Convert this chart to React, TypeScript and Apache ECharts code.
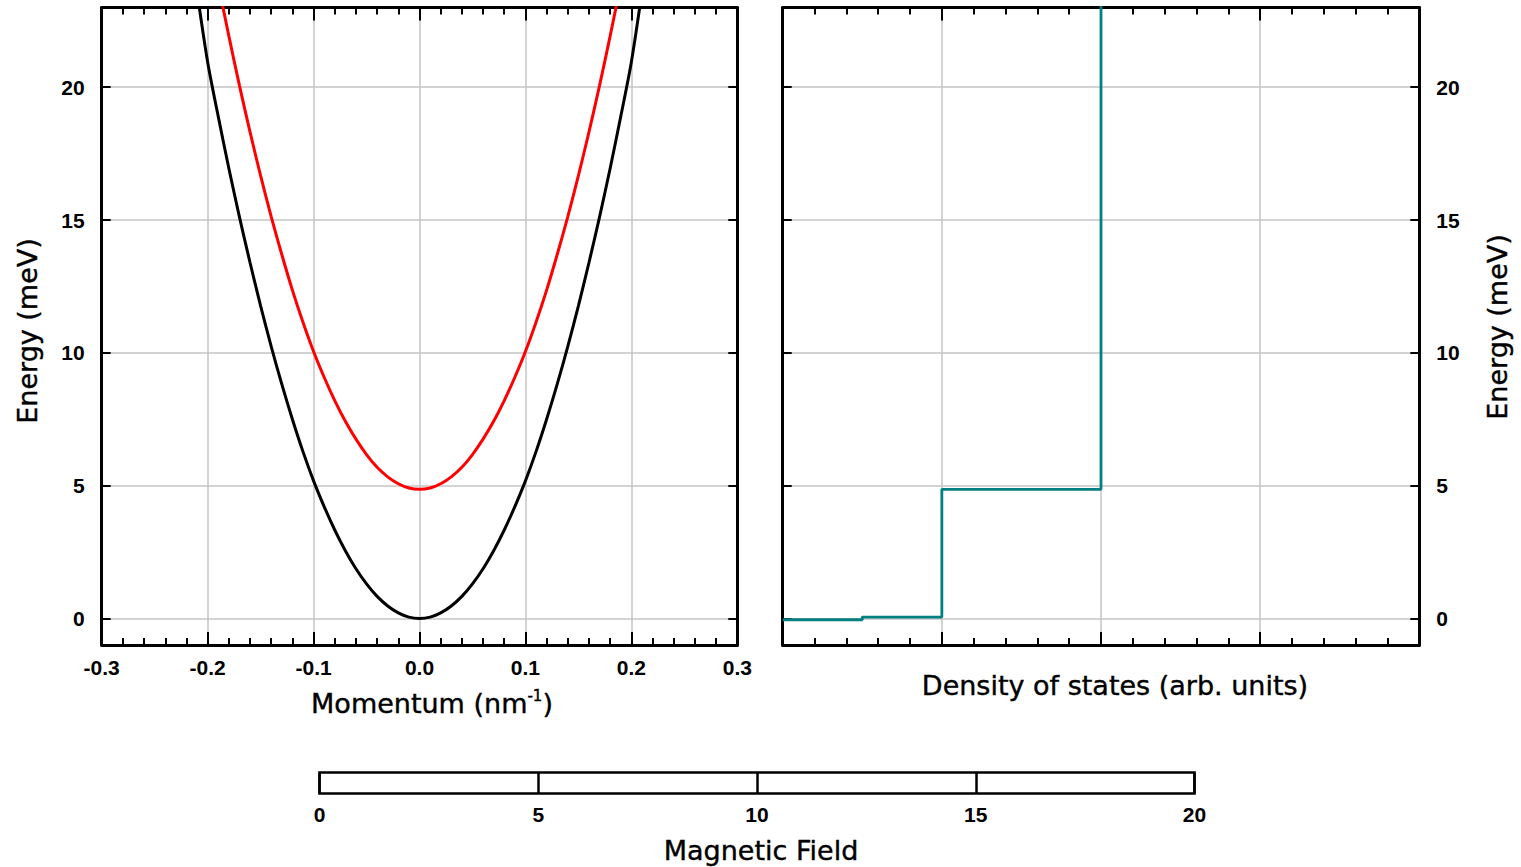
import React, { useEffect, useRef } from "react";
import * as echarts from "echarts";

// Momentum (nm^-1) sample points for the two bands
const momentum = [
  -0.21, -0.2, -0.19, -0.18, -0.17, -0.16, -0.15, -0.14, -0.13, -0.12, -0.11,
  -0.1, -0.09, -0.08, -0.07, -0.06, -0.05, -0.04, -0.03, -0.02, -0.01, 0,
  0.01, 0.02, 0.03, 0.04, 0.05, 0.06, 0.07, 0.08, 0.09, 0.1, 0.11, 0.12, 0.13,
  0.14, 0.15, 0.16, 0.17, 0.18, 0.19, 0.2, 0.21,
];
// Lower (black) band energy, meV
const lowerBand = [
  23.6, 20.95, 18.9, 16.95, 15.12, 13.4, 11.77, 10.24, 8.82, 7.5, 6.28, 5.18,
  4.21, 3.33, 2.55, 1.87, 1.3, 0.83, 0.47, 0.21, 0.05, 0, 0.05, 0.21, 0.47,
  0.83, 1.3, 1.87, 2.55, 3.33, 4.21, 5.18, 6.28, 7.5, 8.82, 10.24, 11.77, 13.4,
  15.12, 16.95, 18.9, 20.95, 23.6,
];
// Upper (red) band energy, meV
const upperBand = [
  28.3, 26.0, 23.9, 21.93, 20.07, 18.32, 16.67, 15.13, 13.7, 12.36, 11.15,
  10.05, 9.08, 8.2, 7.42, 6.75, 6.17, 5.69, 5.33, 5.07, 4.91, 4.86, 4.91, 5.07,
  5.33, 5.69, 6.17, 6.75, 7.42, 8.2, 9.08, 10.05, 11.15, 12.36, 13.7, 15.13,
  16.67, 18.32, 20.07, 21.93, 23.9, 26.0, 28.3,
];
// Density of states step (x = DOS arb. units, y = energy meV)
const dosValues = [0, 0.5, 0.5, 1, 1, 2, 2];
const dosEnergy = [-0.05, -0.05, 0.05, 0.05, 4.86, 4.86, 24];

const energyTicks = [0, 5, 10, 15, 20];
const fieldTicks = [0, 5, 10, 15, 20];

const TICK_FONT = "'Liberation Sans', Arial, sans-serif";
const TITLE_FONT = "'DejaVu Sans', sans-serif";

export default function App() {
  const ref = useRef<HTMLDivElement>(null);

  useEffect(() => {
    if (!ref.current) return;
    const chart = echarts.init(ref.current, undefined, { renderer: "svg" });

    const tickLabel = {
      fontFamily: TICK_FONT,
      fontWeight: "bold" as const,
      fontSize: 21,
      color: "#000",
    };
    const frameLine = {
      show: true,
      onZero: false,
      lineStyle: { color: "#000", width: 3 },
    };
    const gridLine = {
      show: true,
      lineStyle: { color: "#c4c4c4", width: 1.5 },
    };
    const xTick = {
      show: true,
      inside: true,
      length: 13,
      lineStyle: { color: "#000", width: 2 },
    };
    const xMinor = {
      show: true,
      splitNumber: 5,
      length: 7,
      lineStyle: { color: "#000", width: 2 },
    };
    const yTick = {
      show: true,
      inside: true,
      length: 9,
      customValues: energyTicks,
      lineStyle: { color: "#000", width: 2 },
    };

    const gridTop = 7.5;
    const gridHeight = 637.5;

    const titleStyle = {
      fontFamily: TITLE_FONT,
      fontSize: 27,
      fill: "#000",
      stroke: "#000",
      lineWidth: 0.4,
      align: "center",
      verticalAlign: "middle",
    };

    const option: any = {
      animation: false,
      backgroundColor: "#fff",
      grid: [
        { left: 101.7, top: gridTop, width: 635.6, height: gridHeight, show: false },
        { left: 782.7, top: gridTop, width: 636.6, height: gridHeight, show: false },
        {
          left: 319.5,
          top: 772.5,
          width: 875,
          height: 21,
          show: true,
          borderColor: "#000",
          borderWidth: 2.5,
          backgroundColor: "transparent",
        },
      ],
      xAxis: [
        {
          gridIndex: 0,
          type: "value",
          position: "bottom",
          min: -0.3,
          max: 0.3,
          interval: 0.1,
          axisLine: frameLine,
          axisTick: xTick,
          minorTick: xMinor,
          axisLabel: {
            ...tickLabel,
            margin: 12,
            formatter: (v: number) => (Math.abs(v) < 1e-9 ? "0.0" : v.toFixed(1)),
          },
          splitLine: gridLine,
        },
        {
          gridIndex: 0,
          type: "value",
          position: "top",
          min: -0.3,
          max: 0.3,
          interval: 0.1,
          axisLine: frameLine,
          axisTick: xTick,
          minorTick: xMinor,
          axisLabel: { show: false },
          splitLine: { show: false },
        },
        {
          gridIndex: 1,
          type: "value",
          position: "bottom",
          min: 0,
          max: 4,
          interval: 1,
          axisLine: frameLine,
          axisTick: xTick,
          minorTick: xMinor,
          axisLabel: { show: false },
          splitLine: gridLine,
        },
        {
          gridIndex: 1,
          type: "value",
          position: "top",
          min: 0,
          max: 4,
          interval: 1,
          axisLine: frameLine,
          axisTick: xTick,
          minorTick: xMinor,
          axisLabel: { show: false },
          splitLine: { show: false },
        },
        {
          gridIndex: 2,
          type: "value",
          position: "bottom",
          min: 0,
          max: 20,
          interval: 5,
          axisLine: { show: false },
          axisTick: { show: false },
          axisLabel: {
            ...tickLabel,
            margin: 10,
            customValues: fieldTicks,
          },
          splitLine: { show: true, lineStyle: { color: "#000", width: 2.5 } },
        },
      ],
      yAxis: [
        {
          gridIndex: 0,
          type: "value",
          position: "left",
          min: -1,
          max: 23,
          axisLine: frameLine,
          axisTick: yTick,
          axisLabel: { ...tickLabel, margin: 17, customValues: energyTicks },
          splitLine: gridLine,
        },
        {
          gridIndex: 0,
          type: "value",
          position: "right",
          min: -1,
          max: 23,
          axisLine: frameLine,
          axisTick: yTick,
          axisLabel: { show: false },
          splitLine: { show: false },
        },
        {
          gridIndex: 1,
          type: "value",
          position: "left",
          min: -1,
          max: 23,
          axisLine: frameLine,
          axisTick: yTick,
          axisLabel: { show: false },
          splitLine: gridLine,
        },
        {
          gridIndex: 1,
          type: "value",
          position: "right",
          min: -1,
          max: 23,
          axisLine: frameLine,
          axisTick: yTick,
          axisLabel: { ...tickLabel, margin: 17, customValues: energyTicks },
          splitLine: { show: false },
        },
        {
          gridIndex: 2,
          type: "value",
          show: false,
          min: 0,
          max: 1,
        },
      ],
      series: [
        {
          type: "line",
          name: "lower",
          xAxisIndex: 0,
          yAxisIndex: 0,
          data: momentum.map((k, i) => [k, lowerBand[i]]),
          showSymbol: false,
          smooth: 0.3,
          clip: true,
          lineStyle: { color: "#000", width: 3 },
          z: 5,
        },
        {
          type: "line",
          name: "upper",
          xAxisIndex: 0,
          yAxisIndex: 0,
          data: momentum.map((k, i) => [k, upperBand[i]]),
          showSymbol: false,
          smooth: 0.3,
          clip: true,
          lineStyle: { color: "#ff0000", width: 3 },
          z: 5,
        },
        {
          type: "line",
          name: "dos",
          xAxisIndex: 2,
          yAxisIndex: 2,
          data: dosValues.map((d, i) => [d, dosEnergy[i]]),
          showSymbol: false,
          clip: true,
          lineStyle: { color: "#008080", width: 2.8 },
          z: 5,
        },
        {
          type: "line",
          name: "field",
          xAxisIndex: 4,
          yAxisIndex: 4,
          data: [],
          showSymbol: false,
        },
      ],
      graphic: [
        {
          type: "text",
          x: 27,
          y: 331,
          rotation: Math.PI / 2,
          style: { ...titleStyle, text: "Energy (meV)" },
        },
        {
          type: "text",
          x: 1497,
          y: 327,
          rotation: Math.PI / 2,
          style: { ...titleStyle, text: "Energy (meV)" },
        },
        {
          type: "text",
          x: 432,
          y: 703,
          style: {
            ...titleStyle,
            text: "Momentum (nm{sup|-1})",
            lineHeight: 30,
            rich: {
              sup: {
                fontFamily: TITLE_FONT,
                fontSize: 15,
                lineHeight: 15,
                verticalAlign: "top",
                fill: "#000",
              },
            },
          },
        },
        {
          type: "text",
          x: 1115,
          y: 685,
          style: { ...titleStyle, text: "Density of states (arb. units)" },
        },
        {
          type: "text",
          x: 761,
          y: 850,
          style: { ...titleStyle, text: "Magnetic Field" },
        },
      ],
    };

    chart.setOption(option);
    return () => chart.dispose();
  }, []);

  return (
    <div
      ref={ref}
      style={{
        position: "fixed",
        left: 0,
        top: 0,
        width: 1521,
        height: 867,
        background: "#fff",
      }}
    />
  );
}
